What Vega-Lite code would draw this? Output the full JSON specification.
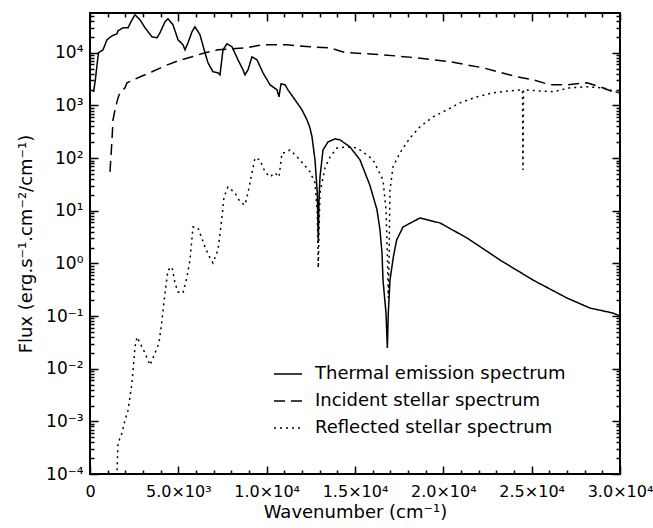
{
  "$schema": "https://vega.github.io/schema/vega-lite/v6.json",
  "width": 530,
  "height": 461,
  "autosize": {"type": "none"},
  "padding": {"left": 90, "top": 13, "right": 33, "bottom": 54},
  "background": "white",
  "config": {
    "view": {"stroke": "black", "strokeWidth": 2},
    "font": "DejaVu Sans",
    "axis": {"grid": false, "domain": false, "tickColor": "#000000", "tickWidth": 1.5, "labelColor": "black", "titleColor": "black", "labelFont": "DejaVu Sans", "titleFont": "DejaVu Sans", "titleFontWeight": "normal", "labelOverlap": false, "labelFlush": false}
  },
  "data": {"values": [
    {"series": "Thermal emission spectrum", "wn": 200, "flux": 1800},
    {"series": "Thermal emission spectrum", "wn": 300, "flux": 3000},
    {"series": "Thermal emission spectrum", "wn": 400, "flux": 6000},
    {"series": "Thermal emission spectrum", "wn": 480, "flux": 10000},
    {"series": "Thermal emission spectrum", "wn": 736, "flux": 11400},
    {"series": "Thermal emission spectrum", "wn": 962, "flux": 17700},
    {"series": "Thermal emission spectrum", "wn": 1245, "flux": 21000},
    {"series": "Thermal emission spectrum", "wn": 1528, "flux": 23000},
    {"series": "Thermal emission spectrum", "wn": 1585, "flux": 26200},
    {"series": "Thermal emission spectrum", "wn": 1868, "flux": 29900},
    {"series": "Thermal emission spectrum", "wn": 2151, "flux": 29900},
    {"series": "Thermal emission spectrum", "wn": 2377, "flux": 42400},
    {"series": "Thermal emission spectrum", "wn": 2547, "flux": 52700},
    {"series": "Thermal emission spectrum", "wn": 2830, "flux": 42400},
    {"series": "Thermal emission spectrum", "wn": 3113, "flux": 29900},
    {"series": "Thermal emission spectrum", "wn": 3509, "flux": 20100},
    {"series": "Thermal emission spectrum", "wn": 3792, "flux": 19300},
    {"series": "Thermal emission spectrum", "wn": 3962, "flux": 24000},
    {"series": "Thermal emission spectrum", "wn": 4245, "flux": 38800},
    {"series": "Thermal emission spectrum", "wn": 4415, "flux": 44300},
    {"series": "Thermal emission spectrum", "wn": 4698, "flux": 34000},
    {"series": "Thermal emission spectrum", "wn": 4981, "flux": 17700},
    {"series": "Thermal emission spectrum", "wn": 5264, "flux": 14200},
    {"series": "Thermal emission spectrum", "wn": 5377, "flux": 11400},
    {"series": "Thermal emission spectrum", "wn": 5547, "flux": 15500},
    {"series": "Thermal emission spectrum", "wn": 5773, "flux": 25100},
    {"series": "Thermal emission spectrum", "wn": 5943, "flux": 31200},
    {"series": "Thermal emission spectrum", "wn": 6226, "flux": 22000},
    {"series": "Thermal emission spectrum", "wn": 6509, "flux": 10000},
    {"series": "Thermal emission spectrum", "wn": 6679, "flux": 6460},
    {"series": "Thermal emission spectrum", "wn": 6962, "flux": 4360},
    {"series": "Thermal emission spectrum", "wn": 7245, "flux": 4170},
    {"series": "Thermal emission spectrum", "wn": 7358, "flux": 3820},
    {"series": "Thermal emission spectrum", "wn": 7528, "flux": 11400},
    {"series": "Thermal emission spectrum", "wn": 7754, "flux": 14800},
    {"series": "Thermal emission spectrum", "wn": 8037, "flux": 13000},
    {"series": "Thermal emission spectrum", "wn": 8377, "flux": 7360},
    {"series": "Thermal emission spectrum", "wn": 8660, "flux": 4750},
    {"series": "Thermal emission spectrum", "wn": 8773, "flux": 3820},
    {"series": "Thermal emission spectrum", "wn": 8943, "flux": 4750},
    {"series": "Thermal emission spectrum", "wn": 9170, "flux": 8390},
    {"series": "Thermal emission spectrum", "wn": 9453, "flux": 7360},
    {"series": "Thermal emission spectrum", "wn": 9792, "flux": 4170},
    {"series": "Thermal emission spectrum", "wn": 10188, "flux": 2470},
    {"series": "Thermal emission spectrum", "wn": 10585, "flux": 1980},
    {"series": "Thermal emission spectrum", "wn": 10698, "flux": 1460},
    {"series": "Thermal emission spectrum", "wn": 10811, "flux": 2580},
    {"series": "Thermal emission spectrum", "wn": 11038, "flux": 2470},
    {"series": "Thermal emission spectrum", "wn": 11207, "flux": 1980},
    {"series": "Thermal emission spectrum", "wn": 11604, "flux": 1280},
    {"series": "Thermal emission spectrum", "wn": 12000, "flux": 824},
    {"series": "Thermal emission spectrum", "wn": 12283, "flux": 532},
    {"series": "Thermal emission spectrum", "wn": 12453, "flux": 375},
    {"series": "Thermal emission spectrum", "wn": 12566, "flux": 253},
    {"series": "Thermal emission spectrum", "wn": 12736, "flux": 92.5},
    {"series": "Thermal emission spectrum", "wn": 12866, "flux": 21.8},
    {"series": "Thermal emission spectrum", "wn": 12922, "flux": 2.44},
    {"series": "Thermal emission spectrum", "wn": 12962, "flux": 16},
    {"series": "Thermal emission spectrum", "wn": 13019, "flux": 44},
    {"series": "Thermal emission spectrum", "wn": 13189, "flux": 143},
    {"series": "Thermal emission spectrum", "wn": 13472, "flux": 203},
    {"series": "Thermal emission spectrum", "wn": 13868, "flux": 232},
    {"series": "Thermal emission spectrum", "wn": 14151, "flux": 222},
    {"series": "Thermal emission spectrum", "wn": 14717, "flux": 163},
    {"series": "Thermal emission spectrum", "wn": 15283, "flux": 92.5},
    {"series": "Thermal emission spectrum", "wn": 15849, "flux": 30},
    {"series": "Thermal emission spectrum", "wn": 16245, "flux": 10.4},
    {"series": "Thermal emission spectrum", "wn": 16415, "flux": 4.32},
    {"series": "Thermal emission spectrum", "wn": 16528, "flux": 1.58},
    {"series": "Thermal emission spectrum", "wn": 16585, "flux": 0.483},
    {"series": "Thermal emission spectrum", "wn": 16755, "flux": 0.114},
    {"series": "Thermal emission spectrum", "wn": 16830, "flux": 0.0247},
    {"series": "Thermal emission spectrum", "wn": 16885, "flux": 0.114},
    {"series": "Thermal emission spectrum", "wn": 16981, "flux": 0.483},
    {"series": "Thermal emission spectrum", "wn": 17170, "flux": 1.32},
    {"series": "Thermal emission spectrum", "wn": 17358, "flux": 2.79},
    {"series": "Thermal emission spectrum", "wn": 17717, "flux": 4.92},
    {"series": "Thermal emission spectrum", "wn": 18679, "flux": 7.29},
    {"series": "Thermal emission spectrum", "wn": 19811, "flux": 5.86},
    {"series": "Thermal emission spectrum", "wn": 21340, "flux": 3.04},
    {"series": "Thermal emission spectrum", "wn": 23207, "flux": 1.16},
    {"series": "Thermal emission spectrum", "wn": 25075, "flux": 0.483},
    {"series": "Thermal emission spectrum", "wn": 26999, "flux": 0.22},
    {"series": "Thermal emission spectrum", "wn": 28300, "flux": 0.142},
    {"series": "Thermal emission spectrum", "wn": 29604, "flux": 0.114},
    {"series": "Thermal emission spectrum", "wn": 30000, "flux": 0.1},

    {"series": "Incident stellar spectrum", "wn": 1132, "flux": 54.7},
    {"series": "Incident stellar spectrum", "wn": 1245, "flux": 222},
    {"series": "Incident stellar spectrum", "wn": 1302, "flux": 532},
    {"series": "Incident stellar spectrum", "wn": 1415, "flux": 824},
    {"series": "Incident stellar spectrum", "wn": 1585, "flux": 1390},
    {"series": "Incident stellar spectrum", "wn": 1698, "flux": 1740},
    {"series": "Incident stellar spectrum", "wn": 1981, "flux": 2160},
    {"series": "Incident stellar spectrum", "wn": 2094, "flux": 2690},
    {"series": "Incident stellar spectrum", "wn": 2717, "flux": 3350},
    {"series": "Incident stellar spectrum", "wn": 3509, "flux": 4360},
    {"series": "Incident stellar spectrum", "wn": 4245, "flux": 5660},
    {"series": "Incident stellar spectrum", "wn": 4981, "flux": 7050},
    {"series": "Incident stellar spectrum", "wn": 5773, "flux": 8390},
    {"series": "Incident stellar spectrum", "wn": 6509, "flux": 10000},
    {"series": "Incident stellar spectrum", "wn": 7245, "flux": 11400},
    {"series": "Incident stellar spectrum", "wn": 8037, "flux": 11900},
    {"series": "Incident stellar spectrum", "wn": 8773, "flux": 12400},
    {"series": "Incident stellar spectrum", "wn": 9792, "flux": 14200},
    {"series": "Incident stellar spectrum", "wn": 11151, "flux": 14200},
    {"series": "Incident stellar spectrum", "wn": 12453, "flux": 13000},
    {"series": "Incident stellar spectrum", "wn": 13585, "flux": 12400},
    {"series": "Incident stellar spectrum", "wn": 14321, "flux": 10400},
    {"series": "Incident stellar spectrum", "wn": 14717, "flux": 10000},
    {"series": "Incident stellar spectrum", "wn": 16585, "flux": 9160},
    {"series": "Incident stellar spectrum", "wn": 18509, "flux": 8030},
    {"series": "Incident stellar spectrum", "wn": 20377, "flux": 6750},
    {"series": "Incident stellar spectrum", "wn": 22245, "flux": 5190},
    {"series": "Incident stellar spectrum", "wn": 24170, "flux": 3500},
    {"series": "Incident stellar spectrum", "wn": 25075, "flux": 3070},
    {"series": "Incident stellar spectrum", "wn": 26038, "flux": 2470},
    {"series": "Incident stellar spectrum", "wn": 26999, "flux": 2470},
    {"series": "Incident stellar spectrum", "wn": 28132, "flux": 2690},
    {"series": "Incident stellar spectrum", "wn": 28868, "flux": 2260},
    {"series": "Incident stellar spectrum", "wn": 29604, "flux": 1820},
    {"series": "Incident stellar spectrum", "wn": 30000, "flux": 1740},

    {"series": "Reflected stellar spectrum", "wn": 1480, "flux": 0.00007},
    {"series": "Reflected stellar spectrum", "wn": 1528, "flux": 0.000104},
    {"series": "Reflected stellar spectrum", "wn": 1585, "flux": 0.000386},
    {"series": "Reflected stellar spectrum", "wn": 1811, "flux": 0.000597},
    {"series": "Reflected stellar spectrum", "wn": 1981, "flux": 0.00105},
    {"series": "Reflected stellar spectrum", "wn": 2151, "flux": 0.00163},
    {"series": "Reflected stellar spectrum", "wn": 2377, "flux": 0.00532},
    {"series": "Reflected stellar spectrum", "wn": 2547, "flux": 0.0258},
    {"series": "Reflected stellar spectrum", "wn": 2660, "flux": 0.0399},
    {"series": "Reflected stellar spectrum", "wn": 2830, "flux": 0.0307},
    {"series": "Reflected stellar spectrum", "wn": 3113, "flux": 0.0198},
    {"series": "Reflected stellar spectrum", "wn": 3396, "flux": 0.0117},
    {"series": "Reflected stellar spectrum", "wn": 3679, "flux": 0.0198},
    {"series": "Reflected stellar spectrum", "wn": 3905, "flux": 0.0307},
    {"series": "Reflected stellar spectrum", "wn": 4075, "flux": 0.0839},
    {"series": "Reflected stellar spectrum", "wn": 4245, "flux": 0.273},
    {"series": "Reflected stellar spectrum", "wn": 4415, "flux": 0.75},
    {"series": "Reflected stellar spectrum", "wn": 4641, "flux": 0.855},
    {"series": "Reflected stellar spectrum", "wn": 4811, "flux": 0.424},
    {"series": "Reflected stellar spectrum", "wn": 4981, "flux": 0.286},
    {"series": "Reflected stellar spectrum", "wn": 5264, "flux": 0.273},
    {"series": "Reflected stellar spectrum", "wn": 5490, "flux": 0.551},
    {"series": "Reflected stellar spectrum", "wn": 5660, "flux": 1.16},
    {"series": "Reflected stellar spectrum", "wn": 5830, "flux": 4.92},
    {"series": "Reflected stellar spectrum", "wn": 6113, "flux": 4.71},
    {"series": "Reflected stellar spectrum", "wn": 6509, "flux": 2.05},
    {"series": "Reflected stellar spectrum", "wn": 6792, "flux": 1.27},
    {"series": "Reflected stellar spectrum", "wn": 6962, "flux": 1.02},
    {"series": "Reflected stellar spectrum", "wn": 7245, "flux": 1.8},
    {"series": "Reflected stellar spectrum", "wn": 7471, "flux": 7.62},
    {"series": "Reflected stellar spectrum", "wn": 7584, "flux": 18.3},
    {"series": "Reflected stellar spectrum", "wn": 7811, "flux": 28.3},
    {"series": "Reflected stellar spectrum", "wn": 8207, "flux": 21.8},
    {"series": "Reflected stellar spectrum", "wn": 8490, "flux": 14.7},
    {"series": "Reflected stellar spectrum", "wn": 8773, "flux": 12.9},
    {"series": "Reflected stellar spectrum", "wn": 8943, "flux": 21.8},
    {"series": "Reflected stellar spectrum", "wn": 9170, "flux": 52.4},
    {"series": "Reflected stellar spectrum", "wn": 9340, "flux": 101},
    {"series": "Reflected stellar spectrum", "wn": 9623, "flux": 92.5},
    {"series": "Reflected stellar spectrum", "wn": 9905, "flux": 54.7},
    {"series": "Reflected stellar spectrum", "wn": 10188, "flux": 44},
    {"series": "Reflected stellar spectrum", "wn": 10471, "flux": 52.4},
    {"series": "Reflected stellar spectrum", "wn": 10698, "flux": 44},
    {"series": "Reflected stellar spectrum", "wn": 10868, "flux": 126},
    {"series": "Reflected stellar spectrum", "wn": 11038, "flux": 126},
    {"series": "Reflected stellar spectrum", "wn": 11321, "flux": 143},
    {"series": "Reflected stellar spectrum", "wn": 11887, "flux": 92.5},
    {"series": "Reflected stellar spectrum", "wn": 12453, "flux": 54.7},
    {"series": "Reflected stellar spectrum", "wn": 12736, "flux": 33.8},
    {"series": "Reflected stellar spectrum", "wn": 12870, "flux": 8.3},
    {"series": "Reflected stellar spectrum", "wn": 12922, "flux": 0.818},
    {"series": "Reflected stellar spectrum", "wn": 12962, "flux": 4.32},
    {"series": "Reflected stellar spectrum", "wn": 13019, "flux": 21.8},
    {"series": "Reflected stellar spectrum", "wn": 13302, "flux": 65.2},
    {"series": "Reflected stellar spectrum", "wn": 13585, "flux": 105},
    {"series": "Reflected stellar spectrum", "wn": 13981, "flux": 156},
    {"series": "Reflected stellar spectrum", "wn": 14547, "flux": 163},
    {"series": "Reflected stellar spectrum", "wn": 15113, "flux": 156},
    {"series": "Reflected stellar spectrum", "wn": 15679, "flux": 115},
    {"series": "Reflected stellar spectrum", "wn": 16019, "flux": 92.5},
    {"series": "Reflected stellar spectrum", "wn": 16302, "flux": 59.7},
    {"series": "Reflected stellar spectrum", "wn": 16585, "flux": 38.5},
    {"series": "Reflected stellar spectrum", "wn": 16755, "flux": 10.4},
    {"series": "Reflected stellar spectrum", "wn": 16840, "flux": 1.16},
    {"series": "Reflected stellar spectrum", "wn": 16887, "flux": 0.22},
    {"series": "Reflected stellar spectrum", "wn": 16930, "flux": 1.16},
    {"series": "Reflected stellar spectrum", "wn": 16958, "flux": 8.3},
    {"series": "Reflected stellar spectrum", "wn": 16981, "flux": 24.8},
    {"series": "Reflected stellar spectrum", "wn": 17151, "flux": 68.1},
    {"series": "Reflected stellar spectrum", "wn": 17547, "flux": 126},
    {"series": "Reflected stellar spectrum", "wn": 18113, "flux": 242},
    {"series": "Reflected stellar spectrum", "wn": 18679, "flux": 392},
    {"series": "Reflected stellar spectrum", "wn": 19415, "flux": 607},
    {"series": "Reflected stellar spectrum", "wn": 20207, "flux": 824},
    {"series": "Reflected stellar spectrum", "wn": 20943, "flux": 1120},
    {"series": "Reflected stellar spectrum", "wn": 21906, "flux": 1460},
    {"series": "Reflected stellar spectrum", "wn": 22811, "flux": 1740},
    {"series": "Reflected stellar spectrum", "wn": 23773, "flux": 1900},
    {"series": "Reflected stellar spectrum", "wn": 24480, "flux": 1980},
    {"series": "Reflected stellar spectrum", "wn": 24509, "flux": 59.7},
    {"series": "Reflected stellar spectrum", "wn": 24540, "flux": 1980},
    {"series": "Reflected stellar spectrum", "wn": 25302, "flux": 1900},
    {"series": "Reflected stellar spectrum", "wn": 26207, "flux": 1820},
    {"series": "Reflected stellar spectrum", "wn": 27170, "flux": 2160},
    {"series": "Reflected stellar spectrum", "wn": 28132, "flux": 2260},
    {"series": "Reflected stellar spectrum", "wn": 29038, "flux": 2160},
    {"series": "Reflected stellar spectrum", "wn": 29717, "flux": 1820},
    {"series": "Reflected stellar spectrum", "wn": 30000, "flux": 1740}
  ]},
  "resolve": {"axis": {"x": "independent", "y": "independent"}},
  "layer": [
    {
      "mark": {"type": "line", "color": "black", "strokeWidth": 1.5, "clip": true},
      "encoding": {
        "x": {"field": "wn", "type": "quantitative", "scale": {"domain": [0, 30000], "nice": false, "zero": false},
          "axis": {"orient": "bottom",
            "values": [0, 1000, 2000, 3000, 4000, 5000, 6000, 7000, 8000, 9000, 10000, 11000, 12000, 13000, 14000, 15000, 16000, 17000, 18000, 19000, 20000, 21000, 22000, 23000, 24000, 25000, 26000, 27000, 28000, 29000, 30000],
            "tickSize": -8, "tickColor": "#000000", "tickWidth": 1.5,
            "tickDash": {"condition": {"test": "datum.value % 5000 !== 0", "value": [4, 30]}, "value": [1, 0]},
            "labelPadding": 17, "labelFontSize": 16,
            "labelExpr": "datum.value % 5000 !== 0 ? '' : ['0','5.0×10³','1.0×10⁴','1.5×10⁴','2.0×10⁴','2.5×10⁴','3.0×10⁴'][round(datum.value/5000)]",
            "title": "Wavenumber (cm⁻¹)", "titleFontSize": 18, "titlePadding": 4}},
        "y": {"field": "flux", "type": "quantitative", "scale": {"type": "log", "domain": [0.0001, 57000], "nice": false},
          "axis": {"orient": "left",
            "values": [0.0001, 2e-4, 3e-4, 4e-4, 5e-4, 6e-4, 7e-4, 8e-4, 9e-4, 0.001, 2e-3, 3e-3, 4e-3, 5e-3, 6e-3, 7e-3, 8e-3, 9e-3, 0.01, 0.02, 0.03, 0.04, 0.05, 0.06, 0.07, 0.08, 0.09, 0.1, 0.2, 0.3, 0.4, 0.5, 0.6, 0.7, 0.8, 0.9, 1, 2, 3, 4, 5, 6, 7, 8, 9, 10, 20, 30, 40, 50, 60, 70, 80, 90, 100, 200, 300, 400, 500, 600, 700, 800, 900, 1000, 2000, 3000, 4000, 5000, 6000, 7000, 8000, 9000, 10000, 20000, 30000, 40000, 50000],
            "tickSize": -8, "tickColor": "#000000", "tickWidth": 1.5,
            "tickDash": {"condition": {"test": "abs(log(datum.value)/LN10 - round(log(datum.value)/LN10)) > 0.001", "value": [4, 30]}, "value": [1, 0]},
            "labelPadding": 15, "labelFontSize": 17,
            "labelExpr": "abs(log(datum.value)/LN10 - round(log(datum.value)/LN10)) > 0.001 ? '' : ['10⁻⁴','10⁻³','10⁻²','10⁻¹','10⁰','10¹','10²','10³','10⁴'][round(log(datum.value)/LN10)+4]",
            "title": "Flux (erg.s⁻¹.cm⁻²/cm⁻¹)", "titleFontSize": 18, "titlePadding": 10}},
        "strokeDash": {"field": "series", "type": "nominal",
          "scale": {"domain": ["Thermal emission spectrum", "Incident stellar spectrum", "Reflected stellar spectrum"], "range": [[1, 0], [11, 6], [2, 4]]},
          "legend": {"orient": "none", "legendX": 183, "legendY": 346, "title": null, "symbolType": "stroke", "symbolSize": 784, "symbolStrokeWidth": 1.5, "symbolStrokeColor": "black", "labelFontSize": 18, "labelFont": "DejaVu Sans", "labelColor": "black", "labelLimit": 500, "rowPadding": 3, "labelOffset": 12, "padding": 0}}
      }
    },
    {
      "mark": {"type": "point", "opacity": 0},
      "encoding": {
        "x": {"field": "wn", "type": "quantitative",
          "axis": {"orient": "top",
            "values": [0, 1000, 2000, 3000, 4000, 5000, 6000, 7000, 8000, 9000, 10000, 11000, 12000, 13000, 14000, 15000, 16000, 17000, 18000, 19000, 20000, 21000, 22000, 23000, 24000, 25000, 26000, 27000, 28000, 29000, 30000],
            "tickSize": -8, "tickColor": "#000000", "tickWidth": 1.5,
            "tickDash": {"condition": {"test": "datum.value % 5000 !== 0", "value": [4, 30]}, "value": [1, 0]},
            "labelExpr": "''", "title": null}},
        "y": {"field": "flux", "type": "quantitative",
          "axis": {"orient": "right",
            "values": [0.0001, 2e-4, 3e-4, 4e-4, 5e-4, 6e-4, 7e-4, 8e-4, 9e-4, 0.001, 2e-3, 3e-3, 4e-3, 5e-3, 6e-3, 7e-3, 8e-3, 9e-3, 0.01, 0.02, 0.03, 0.04, 0.05, 0.06, 0.07, 0.08, 0.09, 0.1, 0.2, 0.3, 0.4, 0.5, 0.6, 0.7, 0.8, 0.9, 1, 2, 3, 4, 5, 6, 7, 8, 9, 10, 20, 30, 40, 50, 60, 70, 80, 90, 100, 200, 300, 400, 500, 600, 700, 800, 900, 1000, 2000, 3000, 4000, 5000, 6000, 7000, 8000, 9000, 10000, 20000, 30000, 40000, 50000],
            "tickSize": -8, "tickColor": "#000000", "tickWidth": 1.5,
            "tickDash": {"condition": {"test": "abs(log(datum.value)/LN10 - round(log(datum.value)/LN10)) > 0.001", "value": [4, 30]}, "value": [1, 0]},
            "labelExpr": "''", "title": null}}
      }
    }
  ]
}
